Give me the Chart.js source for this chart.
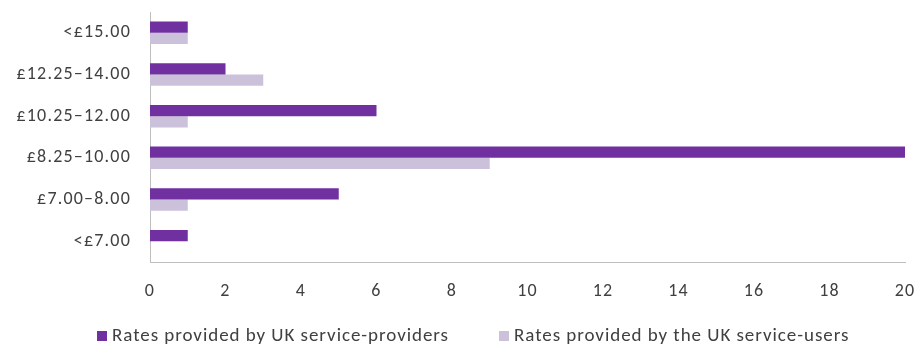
<!DOCTYPE html>
<html>
<head>
<meta charset="utf-8">
<script src="https://cdn.jsdelivr.net/npm/chart.js@4/dist/chart.umd.min.js"></script>
<style>
  body { margin: 0; background: #fff; }
  #wrap { position: relative; width: 917px; height: 345px; }
  #legend {
    position: absolute; left: 97px; top: 323px;
    display: flex; align-items: center;
    font-family: Carlito, Lato, sans-serif; font-size: 19px; letter-spacing: 0.95px; color: #404040;
    white-space: nowrap;
  }
  .item { display: flex; align-items: center; }
  .item + .item { margin-left: 50px; }
  .swatch { width: 10px; height: 10px; margin-right: 5px; margin-top: 2px; }
</style>
</head>
<body>
<div id="wrap">
  <canvas id="rateChart" width="917" height="345"></canvas>
  <div id="legend"></div>
</div>
<script>
const bands = ["<£15.00", "£12.25–14.00", "£10.25–12.00", "£8.25–10.00", "£7.00–8.00", "<£7.00"];
const providerRates = [1, 2, 6, 20, 5, 1];
const userRates = [1, 3, 1, 9, 1, 0];
const seriesNames = ["Rates provided by UK service-providers", "Rates provided by the UK service-users"];
const seriesColors = ["#7030A0", "#CCC1DA"];

const tickFont = { family: "Carlito, Lato, sans-serif", size: 18 };

// wider letter spacing on the canvas text, set before measuring and drawing
const spacingPlugin = {
  id: "spacing",
  beforeLayout(chart) { chart.ctx.letterSpacing = "1.2px"; },
  beforeDraw(chart) { chart.ctx.letterSpacing = "1.2px"; },
};

const rateChart = new Chart(document.getElementById("rateChart"), {
  type: "bar",
  data: {
    labels: bands,
    datasets: [
      { label: seriesNames[0], data: providerRates, backgroundColor: seriesColors[0] },
      { label: seriesNames[1], data: userRates, backgroundColor: seriesColors[1] },
    ],
  },
  options: {
    indexAxis: "y",
    responsive: false,
    animation: false,
    layout: { padding: { top: 12, right: 12, left: 0, bottom: 0 } },
    datasets: { bar: { categoryPercentage: 0.54, barPercentage: 1.0 } },
    plugins: {
      legend: { display: false },
      tooltip: { enabled: false },
    },
    scales: {
      x: {
        min: 0,
        max: 20,
        ticks: { stepSize: 2, color: "#404040", font: tickFont, padding: 11 },
        grid: { display: false },
        border: { display: true, color: "#BFBFBF", width: 1 },
        afterFit: (scale) => {
          scale.height = 83;
          scale.paddingLeft = 0;
          scale.paddingRight = 0;
        },
      },
      y: {
        ticks: { color: "#404040", font: tickFont, padding: 11 },
        grid: { display: false },
        border: { display: true, color: "#BFBFBF", width: 1 },
        afterFit: (scale) => {
          scale.width = 150;
          scale.paddingTop = 0;
          scale.paddingBottom = 0;
        },
      },
    },
  },
  plugins: [spacingPlugin],
});

// HTML legend below the axis
const legendEl = document.getElementById("legend");
rateChart.data.datasets.forEach((ds) => {
  const item = document.createElement("div");
  item.className = "item";
  const swatch = document.createElement("span");
  swatch.className = "swatch";
  swatch.style.background = ds.backgroundColor;
  const text = document.createElement("span");
  text.textContent = ds.label;
  item.appendChild(swatch);
  item.appendChild(text);
  legendEl.appendChild(item);
});
</script>
</body>
</html>
